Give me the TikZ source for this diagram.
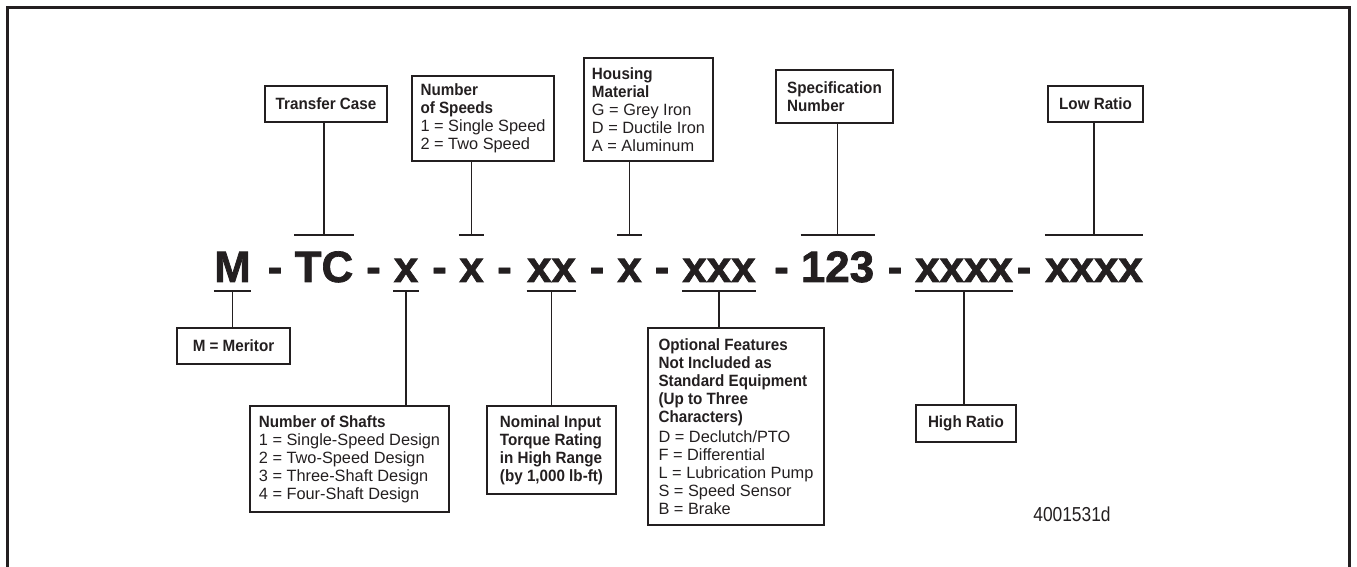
\documentclass[tikz,border=0pt]{standalone}
\usepackage{fontspec}
\setmainfont{Liberation Sans}[BoldFeatures={FakeStretch=0.93}]
\newfontfamily\codefont{Liberation Sans}[BoldFeatures={FakeBold=1.6}]
\newfontfamily\refnofont[FakeStretch=0.86]{Liberation Sans}
\usepackage{tikz}
\definecolor{ink}{RGB}{35,31,32}

\begin{document}
\begin{tikzpicture}[x=0.02cm,y=-0.02cm,
  tagbox/.style={draw=ink,line width=0.9pt,text=ink,inner xsep=4pt,inner ysep=0pt,font=\fontsize{9.3}{10.3}\selectfont},
  listbox/.style={tagbox,align=left},
  codeseg/.style={anchor=base,inner sep=0pt,text=ink,font=\codefont\bfseries\fontsize{25}{30}\selectfont},
  lead/.style={draw=ink,line width=1.1pt}]
\useasboundingbox (0,0) rectangle (1357,567);
\draw[ink,line width=1.7pt] (7.5,580) -- (7.5,7.5) -- (1349.5,7.5) -- (1349.5,580);

\foreach \nm/\xx/\txt in {cm/232.5/M, d1/275/-, ctc/324/TC, d2/373.5/-, cn/406/x, d3/439.5/-, cs/471.5/x, d4/504.5/-, cr/551.5/xx, d5/597/-, ch/629.5/x, d6/662/-, co/719/xxx, d7/781.5/-, cp/837.5/123, d8/895/-, chi/964/xxxx, d9/1024/-, clo/1094/xxxx}
  \node[codeseg] (\nm) at (\xx,282) {\txt};
\coordinate (upper) at (0,235);
\coordinate (lower) at (0,291);

\node[tagbox,minimum width=2.44cm,minimum height=0.72cm] (tcase) at (326,104) {\textbf{Transfer Case}};
\node[listbox,minimum width=2.84cm,minimum height=1.70cm] (speeds) at (483,118.5) {\textbf{Number}\\\textbf{of Speeds}\\1 = Single Speed\\2 = Two Speed};
\node[listbox,minimum width=2.58cm,minimum height=2.06cm] (housing) at (648.5,109.5) {\textbf{Housing}\\\textbf{Material}\\G = Grey Iron\\D = Ductile Iron\\A = Aluminum};
\node[listbox,minimum width=2.34cm,minimum height=1.06cm] (spec) at (834.5,96.5) {\textbf{Specification}\\\textbf{Number}};
\node[tagbox,minimum width=1.90cm,minimum height=0.72cm] (low) at (1095.5,104) {\textbf{Low Ratio}};

\node[tagbox,minimum width=2.26cm,minimum height=0.72cm] (meritor) at (233.5,346) {\textbf{M = Meritor}};
\node[listbox,minimum width=3.98cm,minimum height=2.12cm] (shafts) at (349.5,459) {\textbf{Number of Shafts}\\1 = Single-Speed Design\\2 = Two-Speed Design\\3 = Three-Shaft Design\\4 = Four-Shaft Design};
\node[listbox,minimum width=2.58cm,minimum height=1.76cm] (torque) at (551.5,450) {\textbf{Nominal Input}\\\textbf{Torque Rating}\\\textbf{in High Range}\\\textbf{(by 1,000 lb-ft)}};
\node[listbox,minimum width=3.52cm,minimum height=3.94cm] (options) at (736,426.5) {\textbf{Optional Features}\\\textbf{Not Included as}\\\textbf{Standard Equipment}\\\textbf{(Up to Three}\\\textbf{Characters)}\\[1pt]D = Declutch/PTO\\F = Differential\\L = Lubrication Pump\\S = Speed Sensor\\B = Brake};
\node[tagbox,minimum width=2.00cm,minimum height=0.74cm] (high) at (966,423.5) {\textbf{High Ratio}};

\node[text=ink,inner sep=0pt,font=\refnofont\fontsize{11.5}{12}\selectfont] (figno) at (1072,514) {4001531d};

\foreach \seg/\tag in {ctc/tcase, cs/speeds, ch/housing, cp/spec, clo/low}
  \draw[lead] (\seg.west |- upper) -- (\seg.east |- upper) (\seg.center |- upper) -- (\tag.south -| \seg.center);
\foreach \seg/\tag in {cm/meritor, cn/shafts, cr/torque, co/options, chi/high}
  \draw[lead] (\seg.west |- lower) -- (\seg.east |- lower) (\seg.center |- lower) -- (\tag.north -| \seg.center);
\end{tikzpicture}
\end{document}
